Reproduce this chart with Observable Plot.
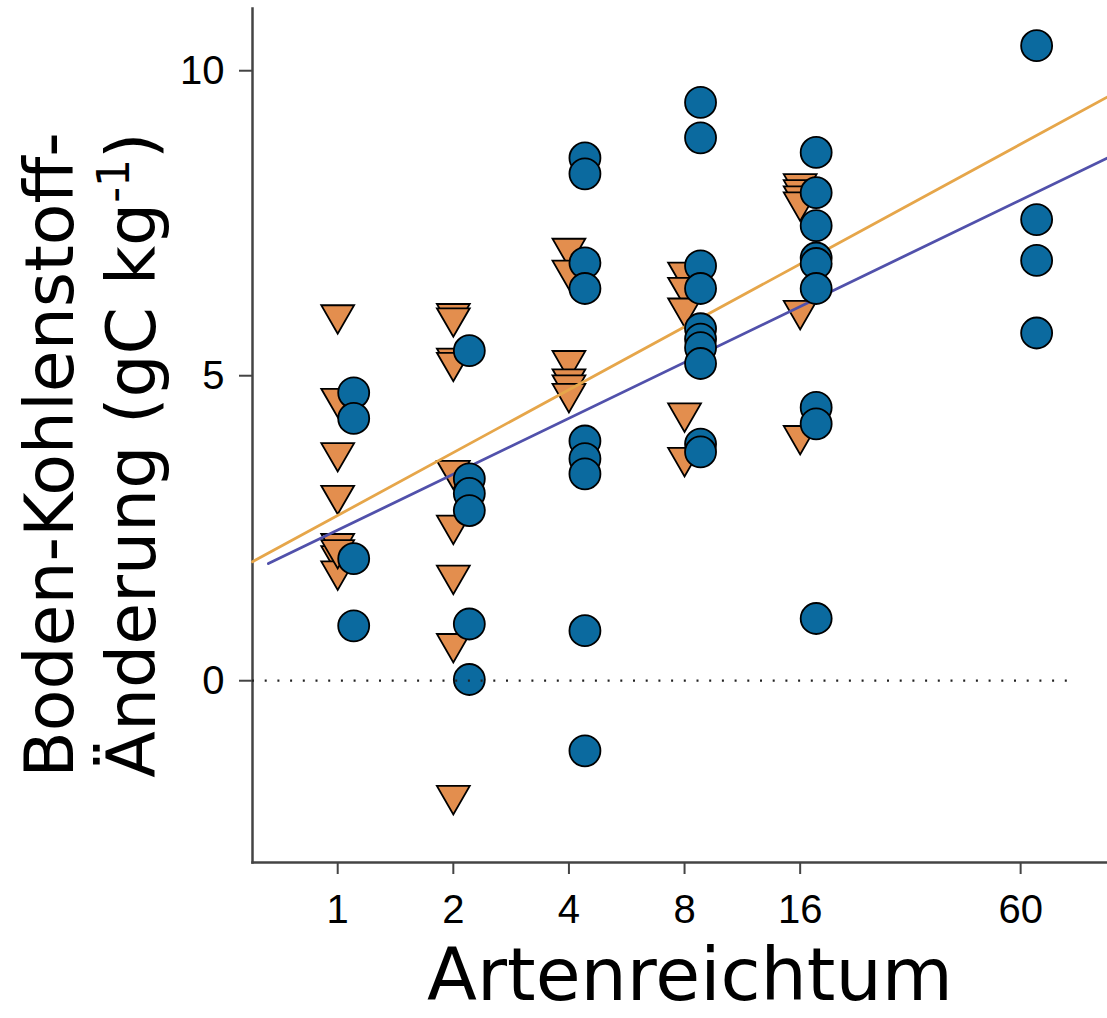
<!DOCTYPE html>
<html><head><meta charset="utf-8">
<script src="https://cdn.jsdelivr.net/npm/d3@7"></script>
<script src="https://cdn.jsdelivr.net/npm/@observablehq/plot@0.6"></script>
<style>body{margin:0;background:#fff;}</style>
</head><body><div id="chart"></div>
<script>
// axis ticks
const richnessTicks = [1, 2, 4, 8, 16, 60];
const carbonTicks = [0, 5, 10];

// orange triangles
const triRichness = [1,1,1,1,1,1,1,1, 2,2,2,2,2,2,2,2,2, 4,4,4,4,4,4, 8,8,8,8,8, 16,16,16,16,16,16];
const triCarbon   = [6.0,4.63,3.74,3.04,2.25,2.05,1.8,2.15, 6.02,5.95,5.29,5.22,3.45,2.55,1.73,0.61,-1.88,
                     7.09,6.73,5.25,4.95,4.85,4.71, 6.7,6.45,6.11,4.39,3.66, 8.15,8.05,7.95,7.85,6.07,4.02];

// blue circles
const circRichness = [1,1,1,1, 2,2,2,2,2,2, 4,4,4,4,4,4,4,4,4, 8,8,8,8,8,8,8,8,8,8, 16,16,16,16,16,16,16,16,16, 60,60,60,60];
const circCarbon   = [4.72,4.30,2.0,0.90, 5.41,3.31,3.07,2.79,0.93,0.02,
                      8.57,8.31,6.85,6.43,3.93,3.64,3.39,0.82,-1.15,
                      9.48,8.90,6.80,6.43,5.77,5.6,5.46,5.2,3.88,3.75,
                      8.66,8.0,7.46,6.93,6.84,6.43,4.48,4.21,1.02,
                      10.41,7.56,6.89,5.70];

// fitted lines (end points)
const fitOrangeX = [0.6, 101];
const fitOrangeY = [1.95, 9.57];
const fitBlueX = [0.66, 101];
const fitBlueY = [1.92, 8.57];
// zero reference line extent
const zeroLineX = [0.6, 80];

const tri = triRichness.map((x, i) => ({x, y: triCarbon[i]}));
const circ = circRichness.map((x, i) => ({x, y: circCarbon[i]}));
const fitO = fitOrangeX.map((x, i) => ({x, y: fitOrangeY[i]}));
const fitB = fitBlueX.map((x, i) => ({x, y: fitBlueY[i]}));
const zero = [{y: 0, x1: zeroLineX[0], x2: zeroLineX[1]}];

const downTriangle = {
  draw(context, size) {
    const r = Math.sqrt(size / Math.PI);
    const hw = 1.347 * r, top = -0.778 * r, tip = 1.555 * r;
    context.moveTo(-hw, top);
    context.lineTo(hw, top);
    context.lineTo(0, tip);
    context.closePath();
  }
};

const axisColor = "#444";
const plot = Plot.plot({
  width: 1107, height: 1018,
  marginLeft: 252, marginRight: 0, marginTop: 8, marginBottom: 156,
  x: {type: "log", base: 2, domain: [0.6, 101]},
  y: {domain: [-2.98, 11.02]},
  style: {fontFamily: "'Liberation Sans', Arial, sans-serif", background: "white", color: "black"},
  marks: [
    Plot.axisX({ticks: richnessTicks, tickFormat: d => String(d), tickSize: 12, tickPadding: 20, fontSize: 40, stroke: axisColor, strokeWidth: 2, fill: "black", label: null}),
    Plot.axisY({ticks: carbonTicks, tickFormat: d => String(d), tickSize: 13, tickPadding: 15, fontSize: 40, stroke: axisColor, strokeWidth: 2, fill: "black", label: null}),
    Plot.frame({anchor: "left", stroke: axisColor, strokeWidth: 2.5}),
    Plot.frame({anchor: "bottom", stroke: axisColor, strokeWidth: 2.5}),
    Plot.dot(tri, {x: "x", y: "y", symbol: downTriangle, r: 12.2, fill: "#E38E4E", stroke: "black", strokeWidth: 1.8}),
    Plot.line(fitO, {x: "x", y: "y", stroke: "#E6A64A", strokeWidth: 2.8}),
    Plot.line(fitB, {x: "x", y: "y", stroke: "#5151AB", strokeWidth: 2.8}),
    Plot.dot(circ, {x: "x", y: "y", r: 15.5, dx: 16, fill: "#0B6A9F", stroke: "black", strokeWidth: 1.8}),
    Plot.ruleY(zero, {y: "y", x1: "x1", x2: "x2", stroke: "#222", strokeWidth: 2.3, strokeDasharray: "2,10.7"})
  ]
});

const svg = d3.select(plot);
svg.append("text")
  .attr("x", 690).attr("y", 1000)
  .attr("text-anchor", "middle")
  .attr("font-family", "'DejaVu Sans', Verdana, sans-serif")
  .attr("font-size", 73)
  .attr("fill", "black")
  .text("Artenreichtum");
svg.append("text")
  .attr("transform", "translate(73,455) rotate(-90)")
  .attr("text-anchor", "middle")
  .attr("font-family", "'DejaVu Sans', Verdana, sans-serif")
  .attr("font-size", 68)
  .attr("fill", "black")
  .text("Boden-Kohlenstoff-");
const l2 = svg.append("text")
  .attr("transform", "translate(155,455) rotate(-90)")
  .attr("text-anchor", "middle")
  .attr("font-family", "'DejaVu Sans', Verdana, sans-serif")
  .attr("font-size", 68)
  .attr("fill", "black");
l2.append("tspan").text("Änderung (gC kg");
l2.append("tspan").attr("font-size", 44).attr("dy", -26).text("-1");
l2.append("tspan").attr("dy", 26).text(")");

document.getElementById("chart").appendChild(plot);
</script>
</body></html>
